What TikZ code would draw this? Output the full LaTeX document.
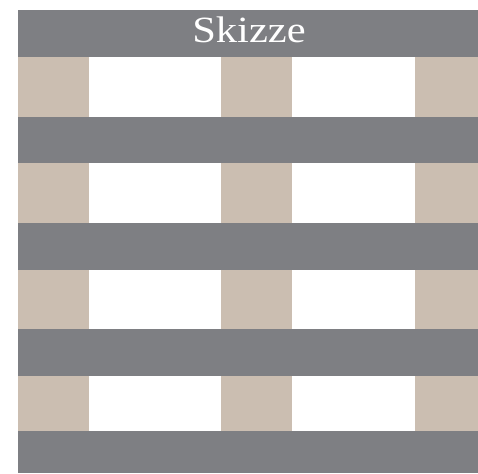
\documentclass[tikz,border=0pt]{standalone}
\usepackage{fontspec}
\setmainfont{Liberation Serif}
\definecolor{bandgrey}{HTML}{7E7F83}
\definecolor{beige}{HTML}{CBBEB1}
\begin{document}
\begin{tikzpicture}[x=1pt,y=-1pt,
  band/.style={fill=bandgrey,draw=none},
  post/.style={fill=beige,draw=none}]
\useasboundingbox[fill=white] (0,0) rectangle (478,473);
% beige columns
\foreach \a/\b in {57/117,163/223,270/329,376/431}{
  \fill[beige] (18,\a) rectangle (89,\b);
  \fill[beige] (221,\a) rectangle (292,\b);
  \fill[beige] (415,\a) rectangle (478,\b);
}
% grey bands
\foreach \a/\b in {10/57,117/163,223/270,329/376,431/473}{
  \fill[bandgrey] (18,\a) rectangle (478,\b);
}
\node[text=white,font=\fontsize{37}{40}\selectfont,xscale=1.15,anchor=base] (title) at (249,43) {Skizze};
\end{tikzpicture}
\end{document}
